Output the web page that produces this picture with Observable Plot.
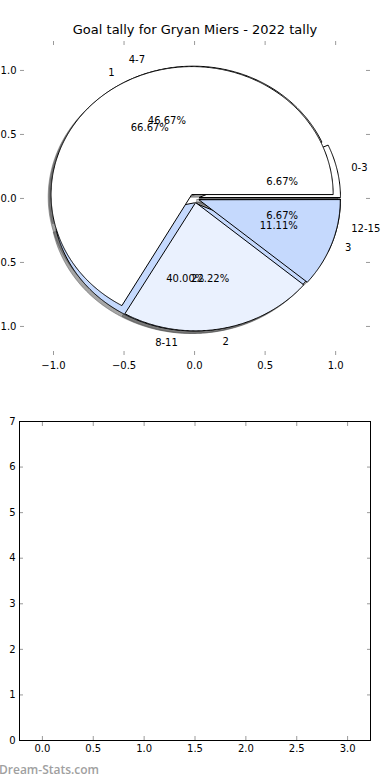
<!DOCTYPE html>
<html>
<head>
<meta charset="utf-8">
<script src="https://cdn.jsdelivr.net/npm/d3@7"></script>
<script src="https://cdn.jsdelivr.net/npm/@observablehq/plot@0.6"></script>
<style>
  body { margin: 0; background: #fff; }
  #wrap { position: relative; width: 390px; height: 780px; overflow: hidden; font-family: "DejaVu Sans", sans-serif; background: #fff; }
  #title { position: absolute; left: 0; width: 390px; top: 22px; text-align: center; font-size: 13px; color: #000; line-height: 15px; }
  #pie { position: absolute; left: 0; top: 40px; }
  #bars { position: absolute; left: 0; top: 380px; }
  #credit { position: absolute; left: -1px; top: 762px; font-family: "Open Sans", sans-serif; font-size: 12px; color: #a0a0a0; font-weight: 600; line-height: 16px; }
</style>
</head>
<body>
<div id="wrap">
  <div id="title">Goal tally for Gryan Miers - 2022 tally</div>
  <div id="pie"></div>
  <div id="bars"></div>
  <div id="credit">Dream-Stats.com</div>
</div>
<script>
// ---- data ----
const tallyLabels = ["0-3", "4-7", "8-11", "12-15"];
const tallyCounts = [1, 7, 6, 1];
const goalLabels = ["1", "2", "3"];
const goalCounts = [6, 2, 1];
const pieTicks = [-1.0, -0.5, 0.0, 0.5, 1.0];
const barXTicks = [0.0, 0.5, 1.0, 1.5, 2.0, 2.5, 3.0];
const barYTicks = [0, 1, 2, 3, 4, 5, 6, 7];

// ---- styles ----
const tallyFills = ["#ffffff", "#ffffff", "#c5d9fd", "#c5d9fd"];
const goalFills = ["#ffffff", "#eaf1fe", "#c5d9fd"];
const explodeBy = 0.035;

function slices(counts, labels, fills) {
  const total = d3.sum(counts);
  let acc = 0;
  return counts.map((c, i) => {
    const a0 = acc / total * 360; acc += c; const a1 = acc / total * 360;
    const mid = (a0 + a1) / 2 * Math.PI / 180;
    const cx = explodeBy * Math.cos(mid), cy = explodeBy * Math.sin(mid);
    return {label: labels[i], pct: (c / total * 100).toFixed(2) + "%", a0, a1, mid, cx, cy, fill: fills[i]};
  });
}
function wedgePoints(s, dx = 0, dy = 0) {
  const pts = [{x: s.cx + dx, y: s.cy + dy}];
  const n = Math.max(4, Math.ceil((s.a1 - s.a0) * 2));
  for (let k = 0; k <= n; k++) {
    const t = (s.a0 + (s.a1 - s.a0) * k / n) * Math.PI / 180;
    pts.push({x: s.cx + dx + Math.cos(t), y: s.cy + dy + Math.sin(t)});
  }
  return pts;
}

const A = slices(tallyCounts, tallyLabels, tallyFills);
const B = slices(goalCounts, goalLabels, goalFills);
const all = [...A, ...B];

const shadowMarks = all.map(s => Plot.line(wedgePoints(s, -0.02, -0.02), {
  x: "x", y: "y", curve: "linear-closed",
  fill: "#4d4d4d", fillOpacity: 0.5, stroke: "#4d4d4d", strokeOpacity: 0.5, strokeWidth: 1
}));
const wedgeMarks = all.map(s => Plot.line(wedgePoints(s), {
  x: "x", y: "y", curve: "linear-closed",
  fill: s.fill, stroke: "black", strokeWidth: 1, strokeLinejoin: "miter"
}));

const labelPts = all.map(s => ({
  text: s.label,
  x: s.cx + 1.1 * Math.cos(s.mid),
  y: s.cy + 1.1 * Math.sin(s.mid)
}));
const pctPts = all.map(s => ({
  text: s.pct,
  x: s.cx + 0.6 * Math.cos(s.mid),
  y: s.cy + 0.6 * Math.sin(s.mid)
}));

const f1 = d3.format(".1f");
const tickStroke = "#9a9a9a";

const pie = Plot.plot({
  width: 390, height: 340,
  marginLeft: 20, marginRight: 21, marginTop: 0, marginBottom: 25,
  x: {domain: [-1.234, 1.24]},
  y: {domain: [-1.227, 1.234]},
  style: {fontFamily: "DejaVu Sans", fontSize: "10px", background: "transparent", overflow: "visible", color: "black"},
  marks: [
    ...shadowMarks,
    ...wedgeMarks,
    Plot.text(labelPts.filter(d => d.x > 0), {x: "x", y: "y", text: "text", textAnchor: "start", fontSize: 10, fill: "black"}),
    Plot.text(labelPts.filter(d => d.x <= 0), {x: "x", y: "y", text: "text", textAnchor: "end", fontSize: 10, fill: "black"}),
    Plot.text(pctPts, {x: "x", y: "y", text: "text", textAnchor: "middle", fontSize: 10, fill: "black"}),
    Plot.axisX(pieTicks, {anchor: "bottom", tickSize: -4, fill: "none", stroke: tickStroke, label: null}),
    Plot.axisX(pieTicks, {anchor: "top", tickSize: -4, fill: "none", stroke: tickStroke, label: null}),
    Plot.axisY(pieTicks, {anchor: "left", tickSize: -4, fill: "none", stroke: tickStroke, label: null}),
    Plot.axisY(pieTicks, {anchor: "right", tickSize: -4, fill: "none", stroke: tickStroke, label: null}),
    Plot.axisX(pieTicks, {anchor: "bottom", tickSize: 0, tickPadding: 6, stroke: "none", fill: "black", label: null, tickFormat: f1}),
    Plot.axisY(pieTicks, {anchor: "left", tickSize: 0, tickPadding: 4, stroke: "none", fill: "black", label: null, tickFormat: f1})
  ]
});
document.getElementById("pie").appendChild(pie);

const bars = Plot.plot({
  width: 390, height: 400,
  marginLeft: 19, marginRight: 20, marginTop: 41, marginBottom: 40,
  x: {domain: [-0.225, 3.225]},
  y: {domain: [0, 7]},
  style: {fontFamily: "DejaVu Sans", fontSize: "10px", background: "transparent", overflow: "visible", color: "black"},
  marks: [
    Plot.axisX(barXTicks, {anchor: "bottom", tickSize: -4, fill: "none", stroke: tickStroke, label: null}),
    Plot.axisX(barXTicks, {anchor: "top", tickSize: -4, fill: "none", stroke: tickStroke, label: null}),
    Plot.axisY(barYTicks, {anchor: "left", tickSize: -4, fill: "none", stroke: tickStroke, label: null}),
    Plot.axisY(barYTicks, {anchor: "right", tickSize: -4, fill: "none", stroke: tickStroke, label: null}),
    Plot.axisX(barXTicks, {anchor: "bottom", tickSize: 0, tickPadding: 4, stroke: "none", fill: "black", label: null, tickFormat: f1}),
    Plot.axisY(barYTicks, {anchor: "left", tickSize: 0, tickPadding: 4, stroke: "none", fill: "black", label: null, tickFormat: d3.format("d")}),
    Plot.frame({stroke: "black", strokeWidth: 1})
  ]
});
document.getElementById("bars").appendChild(bars);
</script>
</body>
</html>
